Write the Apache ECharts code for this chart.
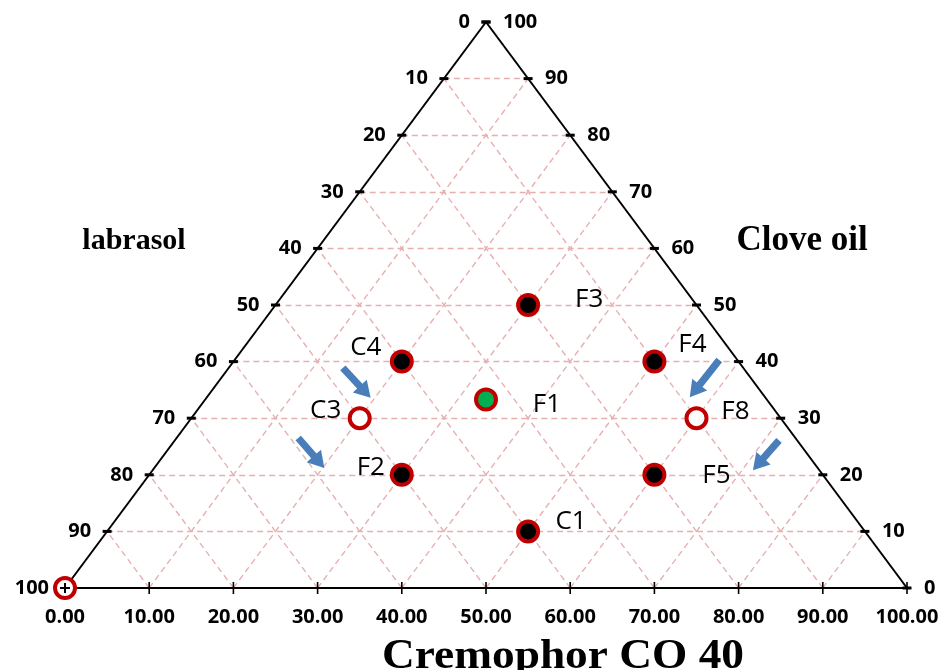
<!DOCTYPE html>
<html>
<head>
<meta charset="utf-8">
<script src="https://cdn.jsdelivr.net/npm/echarts@6/dist/echarts.min.js"></script>
<style>html,body{margin:0;padding:0;background:#fff}#c{width:943px;height:670px}</style>
</head>
<body>
<div id="c"></div>
<script>
// ---- data ----
const ticks = [0, 10, 20, 30, 40, 50, 60, 70, 80, 90, 100];
const pointNames = ['F3', 'C4', 'F4', 'F1', 'C3', 'F8', 'F2', 'F5', 'C1', ''];
const pointX = [55, 40, 70, 50, 35, 75, 40, 70, 55, 0];
const pointY = [50, 40, 40, 33.3, 30, 30, 20, 20, 10, 0];
const pointKind = ['solid', 'solid', 'solid', 'green', 'open', 'open', 'solid', 'solid', 'solid', 'open'];
const arrowFrom = [[33.0, 38.9], [27.7, 26.5], [77.7, 40.3], [84.8, 26.1]];
const arrowTo = [[36.3, 33.6], [30.8, 21.2], [74.2, 33.7], [81.7, 20.8]];
const axisNames = { left: 'labrasol', right: 'Clove oil', bottom: 'Cremophor CO 40' };

// ---- styles / positions (not data) ----
const labelOffset = {
  F3: [61, -5], C4: [-36, -14], F4: [38, -17], F1: [61, 5], C3: [-34, -8],
  F8: [39, -7], F2: [-31, -7], F5: [62, 1], C1: [43, -10], '': [0, 0]
};
const kindFill = { solid: '#000000', green: '#00b050', open: '#ffffff' };
const RED = '#c00000';
const GRIDC = '#e6b0b0';
const TICKFONT = { fontFamily: 'Open Sans', fontWeight: 'bold', fontSize: 20, color: '#000' };

// grid segments
const inner = ticks.filter(t => t > 0 && t < 100);
const gridSegs = [];
inner.forEach(t => {
  gridSegs.push({ coords: [[t / 2, t], [100 - t / 2, t]] });
  gridSegs.push({ coords: [[t, 0], [50 + t / 2, 100 - t]] });
  gridSegs.push({ coords: [[t, 0], [t / 2, t]] });
});
const edgeSegs = [
  { coords: [[0, 0], [50, 100]] },
  { coords: [[50, 100], [100, 0]] },
  { coords: [[0, 0], [100, 0]] }
];
const sideTickPts = [];
ticks.forEach(t => { sideTickPts.push([t / 2, t]); sideTickPts.push([100 - t / 2, t]); });
const bottomTickPts = ticks.map(t => [t, 0]);
const leftLabels = ticks.map(t => ({ value: [t / 2, t], name: String(100 - t) }));
const rightLabels = ticks.map(t => ({ value: [100 - t / 2, t], name: String(t) }));

const points = pointNames.map((n, i) => ({
  value: [pointX[i], pointY[i]],
  name: n,
  itemStyle: { color: kindFill[pointKind[i]], borderColor: RED, borderWidth: 4, opacity: 1 },
  label: { offset: labelOffset[n] }
}));
const arrows = arrowFrom.map((f, i) => [f[0], f[1], arrowTo[i][0], arrowTo[i][1]]);

const chart = echarts.init(document.getElementById('c'), null, { renderer: 'canvas' });
chart.setOption({
  animation: false,
  backgroundColor: '#fff',
  grid: { left: 65, right: 36, top: 22, bottom: 82 },
  xAxis: {
    type: 'value', min: 0, max: 100, interval: 10,
    axisLine: { show: false }, axisTick: { show: false }, splitLine: { show: false },
    axisLabel: Object.assign({ margin: 19, formatter: v => v.toFixed(2) }, TICKFONT)
  },
  yAxis: { type: 'value', min: 0, max: 100, show: false },
  graphic: [
    { type: 'text', x: 134, y: 241, style: { text: axisNames.left, fontFamily: 'Liberation Serif', fontWeight: 'bold', fontSize: 30, fill: '#000', align: 'center', verticalAlign: 'middle' } },
    { type: 'text', x: 802, y: 241, style: { text: axisNames.right, fontFamily: 'Liberation Serif', fontWeight: 'bold', fontSize: 35, fill: '#000', align: 'center', verticalAlign: 'middle' } },
    { type: 'text', x: 563, y: 657, scaleX: 1.08, style: { text: axisNames.bottom, fontFamily: 'Liberation Serif', fontWeight: 'bold', fontSize: 42, fill: '#000', align: 'center', verticalAlign: 'middle' } }
  ],
  series: [
    { type: 'lines', coordinateSystem: 'cartesian2d', z: 1, silent: true, data: gridSegs,
      lineStyle: { color: GRIDC, width: 1.4, type: [6, 4], opacity: 1 } },
    { type: 'lines', coordinateSystem: 'cartesian2d', z: 2, silent: true, data: edgeSegs,
      lineStyle: { color: '#000', width: 2, opacity: 1 } },
    { type: 'scatter', z: 3, silent: true, data: sideTickPts, symbol: 'rect', symbolSize: [9, 3],
      itemStyle: { color: '#000', opacity: 1 } },
    { type: 'scatter', z: 3, silent: true, data: bottomTickPts, symbol: 'rect', symbolSize: [1.6, 12],
      itemStyle: { color: '#000', opacity: 1 } },
    { type: 'scatter', z: 3, silent: true, data: leftLabels, symbolSize: 0, itemStyle: { opacity: 1 },
      label: Object.assign({ show: true, position: 'left', distance: 16, formatter: p => p.name }, TICKFONT) },
    { type: 'scatter', z: 3, silent: true, data: rightLabels, symbolSize: 0, itemStyle: { opacity: 1 },
      label: Object.assign({ show: true, position: 'right', distance: 17, formatter: p => p.name }, TICKFONT) },
    { type: 'custom', z: 4, silent: true, data: arrows, encode: { x: [0, 2], y: [1, 3] },
      renderItem: function (params, api) {
        const p1 = api.coord([api.value(0), api.value(1)]);
        const p2 = api.coord([api.value(2), api.value(3)]);
        const dx = p2[0] - p1[0], dy = p2[1] - p1[1];
        const L = Math.hypot(dx, dy), ux = dx / L, uy = dy / L, nx = -uy, ny = ux;
        const hl = 16, hw = 9.5, sw = 3.6;
        const bx = p2[0] - ux * hl, by = p2[1] - uy * hl;
        const pts = [
          [p1[0] + nx * sw, p1[1] + ny * sw], [bx + nx * sw, by + ny * sw], [bx + nx * hw, by + ny * hw],
          [p2[0], p2[1]],
          [bx - nx * hw, by - ny * hw], [bx - nx * sw, by - ny * sw], [p1[0] - nx * sw, p1[1] - ny * sw]
        ];
        return { type: 'polygon', shape: { points: pts }, style: { fill: '#4a7ebb' } };
      } },
    { type: 'scatter', z: 5, data: points, symbol: 'circle', symbolSize: 20,
      label: { show: true, position: 'inside', formatter: p => p.name, fontFamily: 'Open Sans', fontSize: 26, color: '#000', align: 'center', verticalAlign: 'middle' } },
    { type: 'scatter', z: 6, silent: true, data: [[0, 0]], symbol: 'path://M0,5H10M5,0V10', symbolSize: 10,
      itemStyle: { color: 'none', borderColor: '#000', borderWidth: 2, opacity: 1 } }
  ]
});
</script>
</body>
</html>
